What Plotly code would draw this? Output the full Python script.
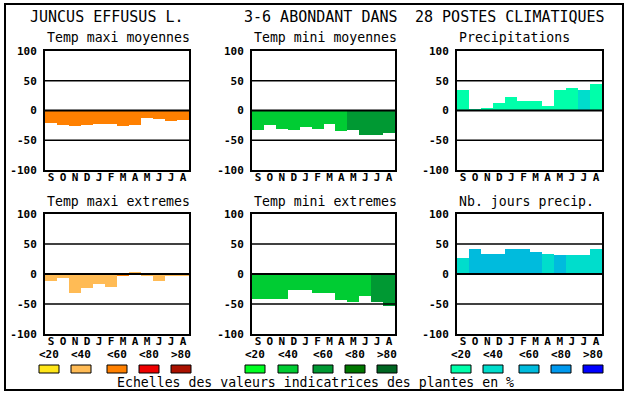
import plotly.graph_objects as go

W, H = 630, 394

months = ["S", "O", "N", "D", "J", "F", "M", "A", "M", "J", "J", "A"]
ytick_vals = [-100, -50, 0, 50, 100]
ytick_text = ["-100", "-50", "0", "50", "100"]

# panel values (% scale) and colour classes (0..4 => <20,<40,<60,<80,>80)
tmax_moy = [-21, -25, -26, -25, -23, -23, -26, -25, -13, -14, -18, -16]
tmax_moy_cls = [2, 2, 2, 2, 2, 2, 2, 2, 2, 2, 2, 2]
tmin_moy = [-33, -25, -31, -32, -28, -31, -22, -34, -33, -41, -41, -37]
tmin_moy_cls = [1, 1, 1, 1, 1, 1, 1, 1, 2, 2, 2, 2]
precip = [35, 2, 5, 13, 23, 16, 16, 7, 35, 37, 35, 45]
precip_cls = [0, 0, 0, 0, 0, 0, 0, 0, 0, 0, 1, 0]
tmax_ext = [-11, -6, -32, -24, -17, -22, -4, 2, -4, -11, -4, -2]
tmax_ext_cls = [1, 1, 1, 1, 1, 1, 2, 1, 1, 1, 1, 1]
tmin_ext = [-41, -42, -42, -27, -27, -32, -31, -44, -47, -36, -46, -54]
tmin_ext_cls = [1, 1, 1, 1, 1, 1, 1, 1, 1, 1, 2, 2]
njours = [27, 42, 34, 34, 42, 41, 36, 34, 32, 32, 31, 41]
njours_cls = [1, 2, 2, 2, 2, 2, 2, 1, 2, 1, 1, 1]

orange_scale = ["#FFE619", "#FFBB55", "#FF8000", "#EE0000", "#AA1100"]
green_scale = ["#00FF22", "#00CC33", "#009933", "#007700", "#006622"]
blue_scale = ["#00FFAA", "#00DDCC", "#00BBDD", "#0099EE", "#0000FF"]
scale_labels = ["<20", "<40", "<60", "<80", ">80"]

titles = ["Temp maxi moyennes", "Temp mini moyennes", "Precipitations",
          "Temp maxi extremes", "Temp mini extremes", "Nb. jours precip."]

panels = [
    (tmax_moy, tmax_moy_cls, orange_scale),
    (tmin_moy, tmin_moy_cls, green_scale),
    (precip, precip_cls, blue_scale),
    (tmax_ext, tmax_ext_cls, orange_scale),
    (tmin_ext, tmin_ext_cls, green_scale),
    (njours, njours_cls, blue_scale),
]

# layout geometry (pixels)
col_x = [(45, 189), (252, 395), (457, 602)]
row_y = [(51, 170), (214, 334)]

MONO = "DejaVu Sans Mono"

fig = go.Figure()
shapes = []
annotations = []

for i, (vals, cls, scale) in enumerate(panels):
    r, c = divmod(i, 3)
    n = i + 1
    xa = "x" if n == 1 else f"x{n}"
    ya = "y" if n == 1 else f"y{n}"
    fig.add_trace(go.Bar(
        x=list(range(len(months))), y=vals, width=1,
        marker=dict(color=[scale[k] for k in cls], line=dict(width=0)),
        xaxis=xa, yaxis=ya, showlegend=False, hoverinfo="y",
    ))
    x0, x1 = col_x[c]
    y0, y1 = row_y[r]
    xd = [x0 / W, x1 / W]
    yd = [1 - y1 / H, 1 - y0 / H]
    xkey = "xaxis" if n == 1 else f"xaxis{n}"
    ykey = "yaxis" if n == 1 else f"yaxis{n}"
    fig.update_layout(**{
        xkey: dict(domain=xd, anchor=ya, range=[-0.5, 11.5],
                   tickvals=list(range(12)), ticktext=months, ticks="",
                   showgrid=False, zeroline=False, showline=True, mirror=True,
                   linecolor="black", linewidth=2, automargin=False,
                   ticklabelstandoff=-4,
                   tickfont=dict(family=MONO, size=11, color="black", weight="bold"),
                   fixedrange=True),
        ykey: dict(domain=yd, anchor=xa, range=[-100, 100],
                   tickvals=ytick_vals, ticktext=ytick_text, ticks="",
                   showgrid=False, zeroline=False, showline=True, mirror=True,
                   linecolor="black", linewidth=2, automargin=False,
                   ticklabelstandoff=4,
                   tickfont=dict(family=MONO, size=11, color="black", weight="bold"),
                   fixedrange=True),
    })
    for lv in (50, 0, -50):
        shapes.append(dict(type="line", xref=f"{xa} domain", yref=ya,
                           x0=0, x1=1, y0=lv, y1=lv, layer="above",
                           line=dict(color="black", width=1.5 if lv else 2)))
    annotations.append(dict(text=titles[i], x=x0 / W, y=1 - (y0 - 13) / H,
                            xref="paper", yref="paper", xanchor="left", yanchor="middle",
                            showarrow=False,
                            font=dict(family=MONO, size=13.2, color="black")))

# headline
for txt, lx in [("JUNCUS EFFUSUS L.", 28), ("3-6 ABONDANT DANS", 242),
                ("28 POSTES CLIMATIQUES", 413)]:
    annotations.append(dict(text=txt, x=lx / W, y=1 - 17.5 / H,
                            xref="paper", yref="paper", xanchor="left", yanchor="middle",
                            showarrow=False, font=dict(family=MONO, size=15, color="black")))

# colour scale legends
box_left = [[39, 71, 107, 139, 171], [245, 278, 313, 345, 377], [451, 483, 519, 551, 583]]
for c, scale in enumerate([orange_scale, green_scale, blue_scale]):
    for k in range(5):
        bx = box_left[c][k]
        shapes.append(dict(type="rect", xref="paper", yref="paper",
                           x0=bx / W, x1=(bx + 20) / W, y0=1 - 373 / H, y1=1 - 365 / H,
                           fillcolor=scale[k], line=dict(color="black", width=1)))
        annotations.append(dict(text=scale_labels[k], x=(bx + 10) / W, y=1 - 354 / H,
                                xref="paper", yref="paper", xanchor="center",
                                yanchor="middle", showarrow=False,
                                font=dict(family=MONO, size=11, color="black",
                                          weight="bold")))

annotations.append(dict(text="Echelles des valeurs indicatrices des plantes en %",
                        x=115 / W, y=1 - 382 / H, xref="paper", yref="paper",
                        xanchor="left", yanchor="middle", showarrow=False,
                        font=dict(family=MONO, size=13.2, color="black")))

# outer frame
shapes.append(dict(type="rect", xref="paper", yref="paper",
                   x0=5 / W, x1=623 / W, y0=1 - 390 / H, y1=1 - 4 / H,
                   line=dict(color="black", width=2), fillcolor="rgba(0,0,0,0)"))

fig.update_layout(width=W, height=H, autosize=False,
                  margin=dict(l=0, r=0, t=0, b=0),
                  paper_bgcolor="white", plot_bgcolor="white",
                  shapes=shapes, annotations=annotations, bargap=0)

fig.write_html("out.html", config={"displayModeBar": False},
               post_script="document.body.style.margin='0';document.body.style.overflow='hidden';")
